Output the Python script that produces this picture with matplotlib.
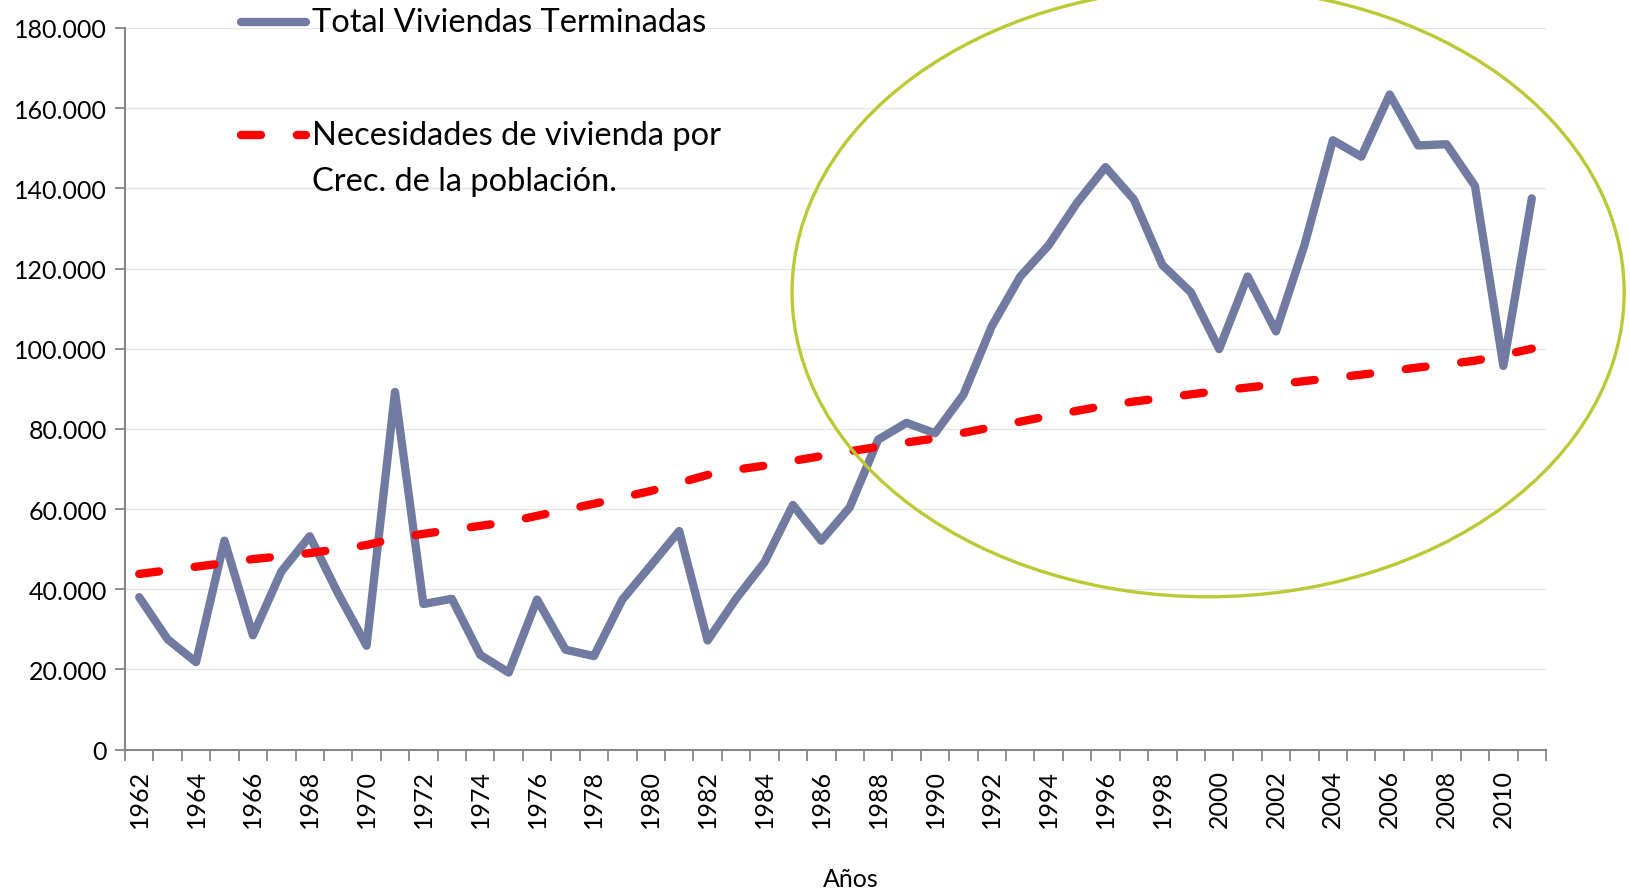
import numpy as np
import matplotlib
matplotlib.use("Agg")
import matplotlib.pyplot as plt
from matplotlib.patches import Ellipse
from matplotlib.lines import Line2D
from matplotlib.ticker import FuncFormatter, MultipleLocator

plt.rcParams['font.family'] = ['Lato', 'DejaVu Sans']

# Datos
years = list(range(1962, 2012))
viviendas = [38000, 27500, 21800, 52100, 28500, 44400, 53200, 38900, 25900, 89200,
             36300, 37600, 23600, 19200, 37400, 24900, 23300, 37400, 45900, 54500,
             27200, 37600, 46700, 61000, 52100, 60400, 77300, 81500, 78900, 88500,
             105600, 118000, 125800, 136400, 145300, 137200, 120900, 114100, 99900, 118000,
             104300, 125800, 152000, 147900, 163400, 150700, 151000, 140600, 95700, 137500]
necesidades = [43800, 44700, 45600, 46500, 47500, 48200, 49000, 50000, 51000, 52700,
               53800, 54800, 55800, 56800, 58300, 59800, 61300, 62900, 64500, 66500,
               68500, 69800, 70800, 72000, 73200, 74400, 75500, 76600, 77600, 79000,
               80400, 81800, 83200, 84500, 85800, 86800, 87700, 88600, 89500, 90300,
               91100, 91900, 92700, 93500, 94400, 95300, 96100, 97000, 98400, 100000]
lbl_total = "Total Viviendas Terminadas"
lbl_nec = "Necesidades de vivienda por\nCrec. de la población."

BLUE = "#717ba1"
RED = "#ff0000"
OLIVE = "#bcc834"
AXC = "#868686"

fig = plt.figure(figsize=(16.3, 8.95), dpi=100)
ax = fig.add_axes([125/1630, 1-750.5/895, (1546-125)/1630, (750.5-29)/895])

x = np.arange(len(years))
ax.plot(x, viviendas, color=BLUE, lw=6, solid_joinstyle='round', solid_capstyle='round', zorder=3)
ax.plot(x, necesidades, color=RED, lw=6, dashes=(2.4, 4.3), dash_capstyle='round', zorder=3)

ax.set_xlim(-0.5, len(years) - 0.5)
ax.set_ylim(0, 180000)
ax.yaxis.set_major_locator(MultipleLocator(20000))
ax.yaxis.set_major_formatter(FuncFormatter(lambda v, p: f"{int(v):,}".replace(",", ".")))
ax.grid(axis='y', color='#e3e3e3', lw=0.9)
ax.set_axisbelow(True)

ax.set_xticks(x[::2])
ax.set_xticklabels([str(y) for y in years[::2]], rotation=90)
ax.set_xticks(np.arange(-0.5, len(years)), minor=True)
ax.tick_params(axis='x', which='major', length=0, labelsize=18, pad=14)
ax.tick_params(axis='x', which='minor', length=8, width=1.3, color=AXC)
ax.tick_params(axis='y', length=7, width=1.3, color=AXC, labelsize=18, pad=6)

for s in ['top', 'right']:
    ax.spines[s].set_visible(False)
for s in ['left', 'bottom']:
    ax.spines[s].set_color(AXC)
    ax.spines[s].set_linewidth(1.5)

def fx(px):
    return px / 1630
def fy(py):
    return 1 - py / 895

fig.text(fx(851), fy(880), "Años", fontsize=18, ha='center', va='center')

# Elipse resaltando el periodo reciente
ell = Ellipse((37.61, 114090), 29.28, 151970, fill=False, edgecolor=OLIVE, lw=2.4, clip_on=False, zorder=4)
ax.add_patch(ell)

# Leyenda manual
fig.add_artist(Line2D([fx(241), fx(306)], [fy(23), fy(23)], color=BLUE, lw=6, solid_capstyle='round'))
fig.text(fx(312), fy(23), lbl_total, fontsize=23.5, va='center', ha='left')
fig.add_artist(Line2D([fx(241), fx(306)], [fy(136), fy(136)], color=RED, lw=6,
                      dashes=(2.4, 4.3), dash_capstyle='round'))
fig.text(fx(312), fy(136), lbl_nec.split("\n")[0], fontsize=23.5, va='center', ha='left')
fig.text(fx(312), fy(182), lbl_nec.split("\n")[1], fontsize=23.5, va='center', ha='left')

fig.savefig("out.png", dpi=100)
